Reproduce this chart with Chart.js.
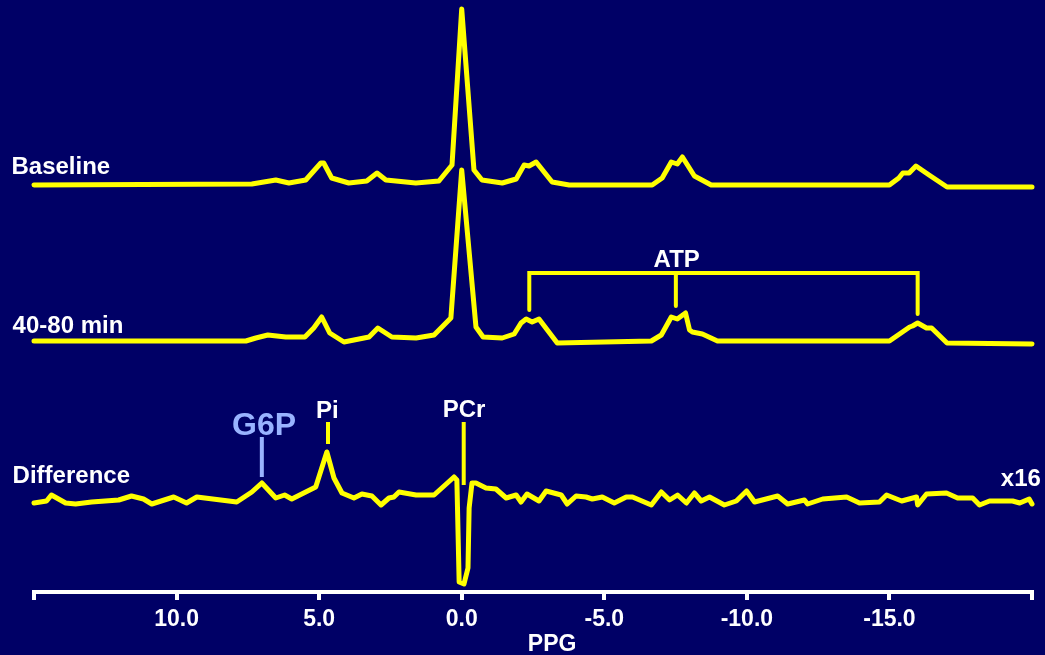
<!DOCTYPE html>
<html>
<head>
<meta charset="utf-8">
<script src="https://cdn.jsdelivr.net/npm/chart.js@4"></script>
<style>
    html, body { margin: 0; padding: 0; background: #000066; }
    canvas { display: block; }
</style>
</head>
<body>
<canvas id="chart" width="1045" height="655"></canvas>
<script>
// chemical shift (ppm) and intensity above each trace's own baseline
const baselinePpm = [15.0, 7.36, 6.52, 6.06, 5.47, 4.94, 4.84, 4.56, 3.96, 3.33, 2.97, 2.66, 1.61, 0.80, 0.34, 0.0, -0.43, -0.71, -1.42, -1.91, -2.19, -2.36, -2.61, -3.17, -3.77, -6.68, -7.03, -7.35, -7.56, -7.74, -8.16, -8.75, -15.0, -15.33, -15.47, -15.69, -15.93, -16.39, -17.02, -20.0];
const baselineVals = [0, 1, 5, 2, 5, 22, 22, 7, 2, 4, 12, 5, 2, 4, 20, 176, 15, 5, 2, 6, 20, 19, 23, 3, 0, 0, 7, 23, 21, 28, 9, 0, 0, 7, 12, 12, 19, 10, -2, -2];

const laterPpm = [15.0, 7.57, 7.22, 6.80, 6.17, 5.50, 5.19, 4.91, 4.63, 4.13, 3.25, 2.94, 2.45, 1.60, 0.97, 0.38, 0.0, -0.50, -0.75, -1.42, -1.84, -2.08, -2.26, -2.47, -2.71, -3.35, -6.65, -7.00, -7.35, -7.56, -7.85, -7.99, -8.09, -8.44, -8.97, -15.0, -15.71, -15.81, -15.99, -16.30, -16.48, -17.02, -20.0];
const laterVals = [0, 0, 3, 6, 4, 4, 13, 24, 8, -1, 4, 13, 4, 3, 6, 23, 171, 14, 4, 3, 7, 18, 22, 19, 22, -2, 0, 6, 24, 22, 28, 11, 9, 7, 0, 0, 14, 15, 18, 13, 13, -2, -3];

const diffPpm = [15.0, 14.56, 14.39, 13.89, 13.54, 12.98, 12.03, 11.58, 11.16, 10.87, 10.10, 9.65, 9.29, 7.89, 7.36, 7.01, 6.52, 6.21, 5.96, 5.12, 4.73, 4.48, 4.20, 3.78, 3.50, 3.15, 2.83, 2.55, 2.38, 2.20, 1.60, 0.97, 0.27, 0.17, 0.09, -0.08, -0.22, -0.26, -0.36, -0.50, -0.85, -1.20, -1.56, -1.91, -2.08, -2.29, -2.71, -2.96, -3.49, -3.70, -4.01, -4.36, -4.58, -4.93, -5.35, -5.77, -5.99, -6.65, -7.00, -7.29, -7.57, -7.88, -8.16, -8.40, -8.69, -9.21, -9.63, -9.99, -10.27, -11.08, -11.43, -12.02, -12.13, -12.66, -13.50, -13.95, -14.65, -14.90, -15.43, -15.95, -15.99, -16.30, -17.00, -17.39, -17.92, -18.16, -18.51, -19.32, -19.57, -19.90, -20.0];
const diffVals = [-3, -1, 5, -3, -4, -2, 0, 4, 1, -4, 3, -3, 3, -2, 8, 17, 2, 5, 1, 13, 48, 22, 7, 2, 6, 4, -5, 2, 3, 8, 5, 5, 23, 20, -82, -84, -68, -8, 17, 17, 12, 11, 2, 5, -2, 6, -1, 9, 5, -4, 4, 3, 1, 3, -3, 3, 3, -5, 8, 0, 5, -3, 7, -1, 3, -5, -1, 9, -2, 4, -4, 0, -4, 1, 3, -3, -2, 5, -1, 3, -5, 6, 7, 2, 2, -5, -1, -1, -3, 1, -4];

const traceNames = ['Baseline', '40-80 min', 'Difference'];
const xTicks = [10, 5, 0, -5, -10, -15];

// peak markers: [ppm, bottom, top] on the stacked scale
const g6pMarker = [7.01, 115, 155];
const piMarker = [4.69, 148, 170];
const pcrMarker = [-0.07, 107, 170];
// ATP bracket: left leg, middle leg, right leg ppm
const atpLegs = [-2.37, -7.51, -15.99];

const YELLOW = '#ffff00';
const G6P_BLUE = '#99b3ff';
const offsets = [407, 251, 92];
const FONT = 'Arial, "Liberation Sans", Helvetica, sans-serif';

function toPoints(xs, ys, off) {
    return xs.map((x, i) => ({ x: x, y: ys[i] + off }));
}

const lineBase = {
    borderColor: YELLOW,
    borderWidth: 5,
    pointRadius: 0,
    tension: 0,
    fill: false,
    borderJoinStyle: 'round',
    borderCapStyle: 'round',
    clip: false,
};

const datasets = [
    { ...lineBase, label: traceNames[0], data: toPoints(baselinePpm, baselineVals, offsets[0]) },
    { ...lineBase, label: traceNames[1], data: toPoints(laterPpm, laterVals, offsets[1]) },
    { ...lineBase, label: traceNames[2], data: toPoints(diffPpm, diffVals, offsets[2]) },
    { ...lineBase, borderWidth: 4, borderCapStyle: 'butt', borderColor: G6P_BLUE,
      data: [{ x: g6pMarker[0], y: g6pMarker[1] }, { x: g6pMarker[0], y: g6pMarker[2] }] },
    { ...lineBase, borderWidth: 4, borderCapStyle: 'butt',
      data: [{ x: piMarker[0], y: piMarker[1] }, { x: piMarker[0], y: piMarker[2] }] },
    { ...lineBase, borderWidth: 4, borderCapStyle: 'butt',
      data: [{ x: pcrMarker[0], y: pcrMarker[1] }, { x: pcrMarker[0], y: pcrMarker[2] }] },
    { ...lineBase, borderWidth: 4, borderJoinStyle: 'miter',
      data: [{ x: atpLegs[0], y: 282 }, { x: atpLegs[0], y: 319 }, { x: atpLegs[2], y: 319 }, { x: atpLegs[2], y: 278 }] },
    { ...lineBase, borderWidth: 4, borderCapStyle: 'butt',
      data: [{ x: atpLegs[1], y: 319 }, { x: atpLegs[1], y: 286 }] },
];

// text labels placed on the chart's own scales
const labels = [
    { text: traceNames[0], x: 15.79, y: 418, align: 'left' },
    { text: traceNames[1], x: 15.75, y: 259, align: 'left' },
    { text: traceNames[2], x: 15.75, y: 109, align: 'left' },
    { text: 'x16', x: -20.31, y: 106, align: 'right' },
    { text: 'G6P', x: 6.93, y: 157, align: 'center', size: 32, color: G6P_BLUE },
    { text: 'Pi', x: 4.71, y: 174, align: 'center' },
    { text: 'PCr', x: -0.08, y: 175, align: 'center' },
    { text: 'ATP', x: -7.54, y: 325, align: 'center' },
    { text: 'PPG', x: -3.17, y: -59, align: 'center', size: 23 },
];

const textPlugin = {
    id: 'spectrumText',
    beforeDraw(chart) {
        const ctx = chart.ctx;
        ctx.save();
        ctx.fillStyle = '#000066';
        ctx.fillRect(0, 0, chart.width, chart.height);
        ctx.restore();
    },
    afterDraw(chart) {
        const ctx = chart.ctx;
        const xs = chart.scales.x;
        const ys = chart.scales.y;
        ctx.save();
        ctx.textBaseline = 'alphabetic';
        labels.forEach(l => {
            ctx.font = 'bold ' + (l.size || 24) + 'px ' + FONT;
            ctx.fillStyle = l.color || '#ffffff';
            ctx.textAlign = l.align;
            ctx.fillText(l.text, xs.getPixelForValue(l.x), ys.getPixelForValue(l.y));
        });
        ctx.restore();
    },
};

new Chart(document.getElementById('chart').getContext('2d'), {
    type: 'line',
    data: { datasets: datasets },
    plugins: [textPlugin],
    options: {
        responsive: false,
        animation: false,
        devicePixelRatio: 1,
        layout: { padding: { left: 34, right: 13, top: 0, bottom: 0 } },
        plugins: {
            legend: { display: false },
            tooltip: { enabled: false },
        },
        scales: {
            x: {
                type: 'linear',
                reverse: true,
                min: -20,
                max: 15,
                afterFit: (scale) => { scale.height = 63; },
                afterBuildTicks: (scale) => {
                    scale.ticks = [15].concat(xTicks, [-20]).map(v => ({ value: v }));
                },
                ticks: {
                    autoSkip: false,
                    maxRotation: 0,
                    padding: 6,
                    color: '#ffffff',
                    font: { family: FONT, size: 23, weight: 'bold' },
                    callback: (v) => (xTicks.includes(v) ? v.toFixed(1) : ''),
                },
                grid: {
                    drawOnChartArea: false,
                    drawTicks: true,
                    tickLength: 8,
                    color: '#ffffff',
                    lineWidth: 4,
                },
                border: { color: '#ffffff', width: 4 },
            },
            y: {
                display: false,
                min: 0,
                max: 592,
            },
        },
    },
});
</script>
</body>
</html>
